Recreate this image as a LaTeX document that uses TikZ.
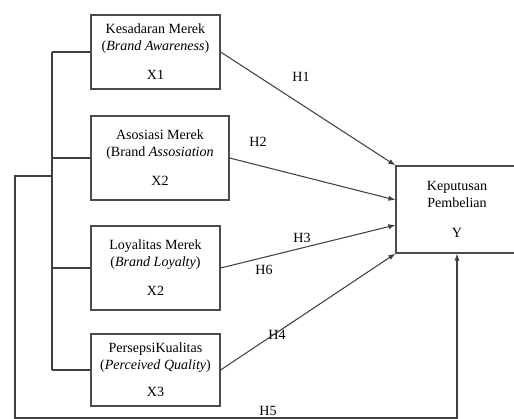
\documentclass[tikz,border=0pt]{standalone}
\usepackage{fontspec}
\setmainfont{Liberation Serif}
\usetikzlibrary{arrows.meta}

\begin{document}
\begin{tikzpicture}[
		x=0.02cm, y=-0.02cm,
		font=\fontsize{8}{9.6}\selectfont,
		v/.style = {rectangle, draw=black!70, line width=0.7pt, align=center, minimum width=2.58cm},
		l/.style = {draw=black!75, line width=0.6pt},
		a/.style = {-{Latex[length=4pt,width=3pt]}, draw=black!75, line width=0.6pt},
		h/.style = {inner sep=0pt}
		]
		\useasboundingbox (0,0) rectangle (514,419);
		
		% === === Nodes === ===
		\node[v, minimum height=1.48cm]	(x1)	at	(155.5, 52)		{Kesadaran Merek\\(\textit{Brand Awareness})\\[7pt]X1};
		\node[v, minimum height=1.68cm, minimum width=2.76cm]	(x2)	at	(160, 158)	{Asosiasi Merek\\(Brand \textit{Assosiation}\\[7pt]X2};
		\node[v, minimum height=1.68cm]	(x3)	at	(155.5, 268)	{Loyalitas Merek\\(\textit{Brand Loyalty})\\[7pt]X2};
		\node[v, minimum height=1.44cm]	(x4)	at	(155.5, 370)	{PersepsiKualitas\\(\textit{Perceived Quality})\\[6pt]X3};
		\node[v, minimum height=1.74cm, minimum width=2.44cm]	(y)	at	(457, 209.5)	{Keputusan\\Pembelian\\[8pt]Y};
		
		\coordinate	(bt)	at	(x1.west -| 52, 0);
		\coordinate	(bb)	at	(x4.west -| 52, 0);
		\coordinate	(lp)	at	(15, 176);
		\coordinate	(lb)	at	(15, 418);
		
		\node[h]	(h1)	at	(301, 77)	{H1};
		\node[h]	(h2)	at	(258, 142)	{H2};
		\node[h]	(h3)	at	(302, 238)	{H3};
		\node[h]	(h6)	at	(264, 270)	{H6};
		\node[h]	(h4)	at	(277, 335)	{H4};
		\node[h]	(h5)	at	(268, 411)	{H5};
		
		% === === Lines === ===
		\draw[l]	(bt)	--	(bb);
		\draw[l]	(x1.west)	--	(x1.west -| bt);
		\draw[l]	(x2.west)	--	(x2.west -| bt);
		\draw[l]	(x3.west)	--	(x3.west -| bt);
		\draw[l]	(x4.west)	--	(x4.west -| bt);
		
		\draw[a]	(x1.east)	--	(y.north west);
		\draw[a]	(x2.east)	--	([yshift=0.19cm]y.west);
		\draw[a]	(x3.east)	--	([yshift=-0.31cm]y.west);
		\draw[a]	(x4.east)	--	(y.south west);
		
		\draw[a]	(lp -| bt)	--	(lp)	--	(lb)	-|	(y.south);
		
	\end{tikzpicture}
\end{document}
